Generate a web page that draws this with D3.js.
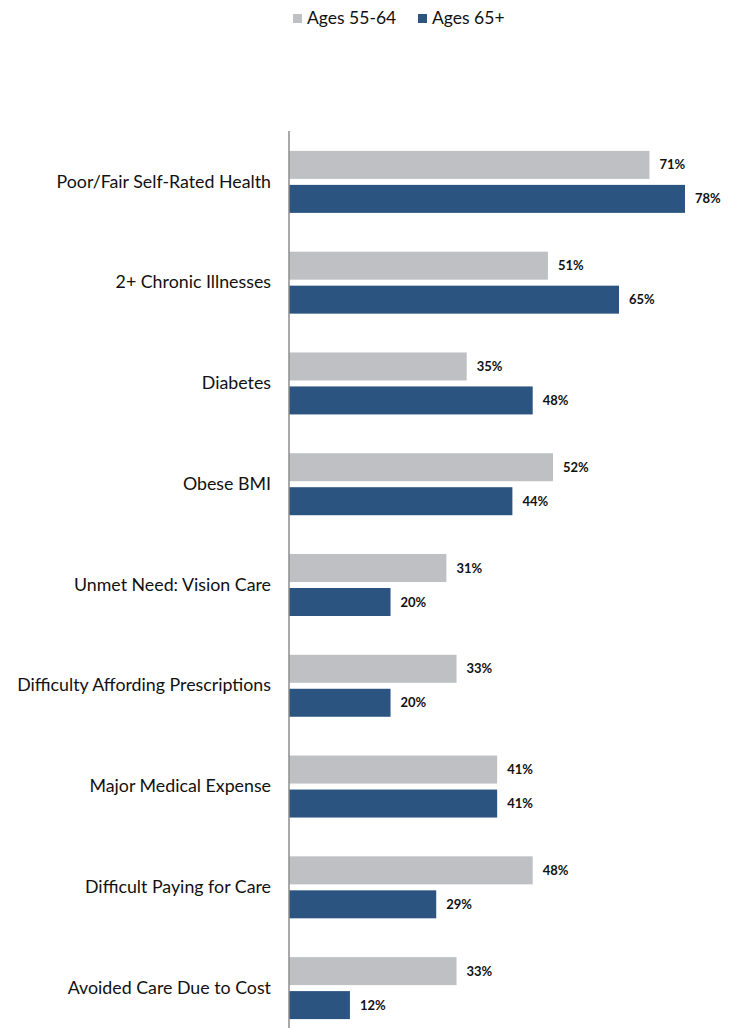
<!DOCTYPE html>
<html>
<head>
<meta charset="utf-8">
<script src="https://cdn.jsdelivr.net/npm/d3@7"></script>
<style>
  body { margin: 0; background: #fff; }
  text { font-family: Lato, "Open Sans", sans-serif; fill: #111; }
</style>
</head>
<body>
<div id="chart"></div>
<script>
// Values (percent)
const categories = [
  "Poor/Fair Self-Rated Health",
  "2+ Chronic Illnesses",
  "Diabetes",
  "Obese BMI",
  "Unmet Need: Vision Care",
  "Difficulty Affording Prescriptions",
  "Major Medical Expense",
  "Difficult Paying for Care",
  "Avoided Care Due to Cost"
];
const series = ["Ages 55-64", "Ages 65+"];
const ages55_64 = [71, 51, 35, 52, 31, 33, 41, 48, 33];
const ages65plus = [78, 65, 48, 44, 20, 20, 41, 29, 12];
const colors = ["#bfc0c4", "#2b5580"];

const width = 740, height = 1028;
const axisX = 289;

const svg = d3.select("#chart").append("svg")
  .attr("width", width)
  .attr("height", height);

const rows = categories.map((c, i) => ({
  name: c,
  values: [ages55_64[i], ages65plus[i]]
}));

// scales
const x = d3.scaleLinear().domain([0, 78]).range([axisX, 685]);
const y0 = d3.scaleBand().domain(categories)
  .range([131.5, 1038.5])
  .paddingInner(0.385)
  .paddingOuter(0.1925);
const y1 = d3.scaleBand().domain(series)
  .range([0, y0.bandwidth()])
  .paddingInner(0.176);

// bars
const groups = svg.selectAll("g.cat")
  .data(rows)
  .join("g")
  .attr("class", "cat")
  .attr("transform", d => `translate(0,${y0(d.name)})`);

groups.selectAll("rect")
  .data(d => d.values.map((v, j) => ({key: series[j], v, j})))
  .join("rect")
  .attr("x", x(0))
  .attr("y", d => y1(d.key))
  .attr("width", d => x(d.v) - x(0))
  .attr("height", y1.bandwidth())
  .attr("fill", d => colors[d.j]);

groups.selectAll("text.val")
  .data(d => d.values.map((v, j) => ({key: series[j], v, j})))
  .join("text")
  .attr("class", "val")
  .attr("x", d => x(d.v) + 10)
  .attr("y", d => y1(d.key) + y1.bandwidth() / 2)
  .attr("dy", "0.35em")
  .attr("font-size", 13)
  .attr("font-weight", "bold")
  .text(d => d.v + "%");

// category axis
const yAxis = d3.axisLeft(y0).tickSize(0).tickPadding(18);
const ax = svg.append("g")
  .attr("transform", `translate(${axisX},0)`)
  .call(yAxis);
ax.select(".domain").remove();
ax.selectAll("text")
  .attr("font-size", 17.8)
  .attr("font-family", "Lato, sans-serif")
  .attr("fill", "#111");

svg.append("line")
  .attr("x1", axisX).attr("x2", axisX)
  .attr("y1", 131).attr("y2", height)
  .attr("stroke", "#8c8c8c")
  .attr("stroke-width", 1.5);

// legend
const legend = svg.append("g").attr("transform", "translate(293,14)");
const lx = [0, 125];
series.forEach((s, i) => {
  const g = legend.append("g").attr("transform", `translate(${lx[i]},0)`);
  g.append("rect").attr("width", 9).attr("height", 9).attr("fill", colors[i]);
  g.append("text")
    .attr("x", 14).attr("y", 10)
    .attr("font-size", 17.5)
    .text(s);
});
</script>
</body>
</html>
